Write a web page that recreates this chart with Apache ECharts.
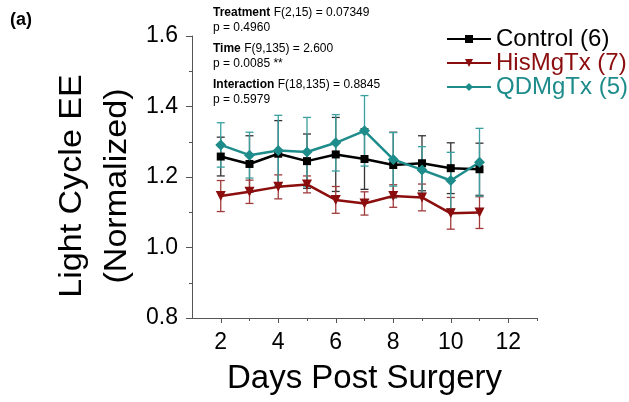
<!DOCTYPE html>
<html>
<head>
<meta charset="utf-8">
<script src="https://cdn.jsdelivr.net/npm/echarts@6/dist/echarts.min.js"></script>
<style>
  html, body { margin: 0; padding: 0; background: #fff; }
  #chart { width: 629px; height: 402px; }
</style>
</head>
<body>
<div id="chart"></div>
<script>
// days post surgery
var days = [2, 3, 4, 5, 6, 7, 8, 9, 10, 11];

// means (normalized light cycle EE)
var control = [1.258, 1.237, 1.266, 1.245, 1.264, 1.251, 1.234, 1.239, 1.225, 1.222];
var hisMgTx = [1.146, 1.158, 1.172, 1.179, 1.135, 1.125, 1.146, 1.142, 1.097, 1.099];
var qdMgTx  = [1.291, 1.262, 1.275, 1.271, 1.297, 1.331, 1.250, 1.220, 1.190, 1.242];

// SEM
var controlErr = [0.055, 0.080, 0.094, 0.077, 0.105, 0.086, 0.093, 0.078, 0.072, 0.074];
var hisErr     = [0.044, 0.033, 0.034, 0.024, 0.038, 0.033, 0.032, 0.038, 0.045, 0.045];
var qdErr      = [0.063, 0.065, 0.100, 0.098, 0.080, 0.100, 0.076, 0.066, 0.080, 0.096];

var xMajor = [2, 4, 6, 8, 10, 12];
var xMinor = [3, 5, 7, 9, 11, 13];

var names = ['Control (6)', 'HisMgTx (7)', 'QDMgTx (5)'];
var colors = ['#000000', '#8b0d0d', '#1f8c8c'];
var barColors = ['#333333', '#a03a3a', '#3aa0a0'];

var myChart = echarts.init(document.getElementById('chart'));

function pts(vals) {
    return days.map(function (d, i) { return [d, vals[i]]; });
}
function errData(vals, errs) {
    return days.map(function (d, i) { return [d, vals[i] - errs[i], vals[i] + errs[i]]; });
}
function errSeries(vals, errs, color) {
    return {
        type: 'custom',
        silent: true,
        z: 1,
        data: errData(vals, errs),
        encode: {x: 0, y: [1, 2]},
        renderItem: function (params, api) {
            var lo = api.coord([api.value(0), api.value(1)]);
            var hi = api.coord([api.value(0), api.value(2)]);
            var w = 4;
            var st = {stroke: color, lineWidth: 1.3};
            return {
                type: 'group',
                children: [
                    {type: 'line', shape: {x1: lo[0], y1: lo[1], x2: hi[0], y2: hi[1]}, style: st},
                    {type: 'line', shape: {x1: lo[0] - w, y1: lo[1], x2: lo[0] + w, y2: lo[1]}, style: st},
                    {type: 'line', shape: {x1: hi[0] - w, y1: hi[1], x2: hi[0] + w, y2: hi[1]}, style: st}
                ]
            };
        }
    };
}
function lineSeries(name, vals, color, symbol, size) {
    return {
        name: name,
        type: 'line',
        z: 3,
        data: pts(vals),
        symbol: symbol,
        symbolSize: size,
        lineStyle: {color: color, width: 2.5},
        itemStyle: {color: color},
        emphasis: {disabled: true}
    };
}

var axisCol = '#555555';
var font = 'Liberation Sans, Arial, sans-serif';

function statText(head, rest) {
    return {
        text: '{b|' + head + '} ' + rest,
        font: '12px ' + font, fill: '#000', lineHeight: 15,
        rich: {b: {fontWeight: 'bold', fontSize: 12, fontFamily: font}}
    };
}

option = {
    animation: false,
    textStyle: {fontFamily: font},
    grid: {left: 192, top: 36, right: 92, bottom: 84},
    legend: {
        orient: 'vertical',
        left: 441,
        top: 22,
        itemWidth: 44,
        itemHeight: 10,
        itemGap: 0,
        data: names.map(function (n, i) {
            return {name: n, textStyle: {color: colors[i]}};
        }),
        textStyle: {fontSize: 24, lineHeight: 23, fontFamily: font}
    },
    xAxis: [{
        type: 'value',
        min: 1,
        max: 13,
        name: 'Days Post Surgery',
        nameLocation: 'middle',
        nameGap: 44,
        nameTextStyle: {fontSize: 33, color: '#000'},
        splitLine: {show: false},
        axisLine: {lineStyle: {color: axisCol, width: 1}},
        axisTick: {length: 5, customValues: xMajor, lineStyle: {color: axisCol}},
        axisLabel: {customValues: xMajor, fontSize: 23, color: '#000', margin: 13}
    }, {
        type: 'value',
        min: 1,
        max: 13,
        position: 'bottom',
        splitLine: {show: false},
        axisLine: {show: false},
        axisTick: {length: 3, customValues: xMinor, lineStyle: {color: axisCol}},
        axisLabel: {show: false}
    }],
    yAxis: {
        type: 'value',
        min: 0.8,
        max: 1.6,
        interval: 0.2,
        splitLine: {show: false},
        axisLine: {show: true, lineStyle: {color: axisCol, width: 1}},
        axisTick: {length: 6, lineStyle: {color: axisCol}},
        minorTick: {show: true, splitNumber: 2, length: 3, lineStyle: {color: axisCol}},
        axisLabel: {
            fontSize: 23, color: '#000', margin: 14,
            formatter: function (v) { return v.toFixed(1); }
        }
    },
    graphic: [
        {type: 'text', left: 10, top: 11, style: {text: '(a)', font: 'bold 18px ' + font, fill: '#000'}},
        // y axis title, stretched along its length like the original figure
        {type: 'text', x: 95, y: 186, rotation: Math.PI / 2, scaleX: 1.1,
            style: {
                text: 'Light Cycle EE\n(Normalized)', font: '31px ' + font, fill: '#000',
                align: 'center', verticalAlign: 'middle', lineHeight: 45
            }},
        {type: 'text', left: 213, top: 5, style: statText('Treatment', 'F(2,15) = 0.07349\np = 0.4960')},
        {type: 'text', left: 213, top: 41, style: statText('Time', 'F(9,135) = 2.600\np = 0.0085 **')},
        {type: 'text', left: 213, top: 77, style: statText('Interaction', 'F(18,135) = 0.8845\np = 0.5979')}
    ],
    series: [
        errSeries(control, controlErr, barColors[0]),
        errSeries(hisMgTx, hisErr, barColors[1]),
        errSeries(qdMgTx, qdErr, barColors[2]),
        lineSeries(names[0], control, colors[0], 'rect', 8),
        lineSeries(names[1], hisMgTx, colors[1], 'triangle', 10),
        lineSeries(names[2], qdMgTx, colors[2], 'diamond', 11)
    ]
};
// triangles point down
option.series[4].symbolRotate = 180;

myChart.setOption(option);
</script>
</body>
</html>
